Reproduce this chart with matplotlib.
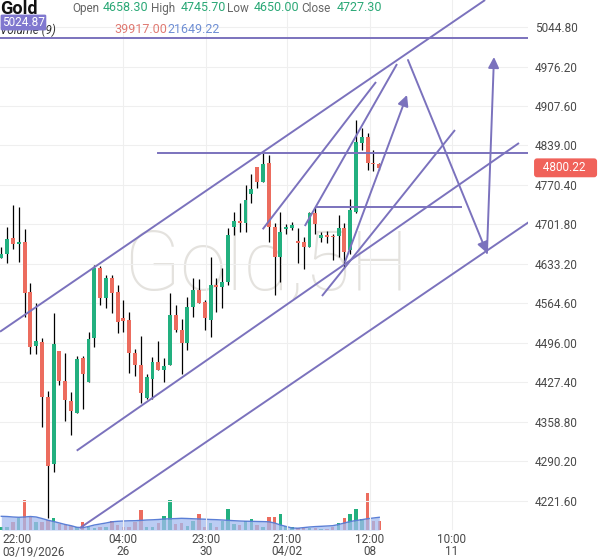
import numpy as np
import matplotlib.pyplot as plt
from matplotlib.transforms import blended_transform_factory

plt.rcParams['font.family'] = ['Roboto', 'DejaVu Sans']

# 5H candles
opens = [4643.6, 4650.6, 4678.4, 4667.9, 4671.4, 4584.6, 4490.8, 4497.7, 4402.2, 4285.9,
         4482.1, 4430.0, 4395.3, 4374.4, 4470.0, 4428.3, 4504.7, 4626.3, 4574.2, 4608.9,
         4584.6, 4539.4, 4536.0, 4478.6, 4457.8, 4400.5, 4433.5, 4463.0, 4449.1, 4457.8,
         4544.6, 4518.6, 4496.0, 4558.5, 4588.1, 4567.2, 4536.0, 4596.7, 4593.3, 4602.0,
         4697.5, 4707.9, 4704.4, 4754.8, 4801.7, 4775.6, 4808.6, 4697.5, 4645.4, 4694.0,
         4695.7, 4673.2, 4671.4, 4662.7, 4721.8, 4678.4, 4683.6, 4681.8, 4681.8, 4695.7,
         4658.3, 4723.5, 4843.4, 4853.8, 4808.6, 4806.9]
highs = [4662.7, 4697.5, 4735.7, 4732.2, 4694.0, 4600.2, 4565.5, 4504.7, 4412.7, 4548.1,
         4482.1, 4478.6, 4410.9, 4473.4, 4473.4, 4515.1, 4631.5, 4629.7, 4614.1, 4614.1,
         4596.7, 4570.7, 4549.9, 4485.6, 4508.2, 4442.2, 4471.7, 4499.5, 4470.0, 4582.8,
         4562.0, 4537.7, 4575.9, 4608.9, 4607.2, 4570.7, 4645.4, 4608.9, 4626.3, 4695.7,
         4723.5, 4739.1, 4770.4, 4789.5, 4801.7, 4826.0, 4822.5, 4704.4, 4723.5, 4702.7,
         4706.2, 4695.7, 4680.1, 4723.5, 4732.2, 4688.8, 4690.5, 4685.3, 4718.3, 4704.4,
         4745.7, 4883.3, 4869.4, 4860.7, 4831.2, 4808.6]
lows = [4643.6, 4634.9, 4659.3, 4636.7, 4541.2, 4476.9, 4476.9, 4350.1, 4192.1, 4272.0,
        4423.1, 4360.5, 4336.2, 4374.4, 4381.4, 4428.3, 4489.1, 4562.0, 4556.8, 4548.1,
        4513.4, 4515.1, 4443.9, 4438.7, 4391.8, 4398.8, 4398.8, 4449.1, 4428.3, 4457.8,
        4515.1, 4442.2, 4483.9, 4541.2, 4565.5, 4518.6, 4506.4, 4549.9, 4556.8, 4596.7,
        4683.6, 4688.8, 4688.8, 4739.1, 4765.2, 4775.6, 4671.4, 4579.4, 4602.0, 4685.3,
        4692.3, 4634.9, 4624.5, 4662.7, 4685.3, 4671.4, 4669.7, 4640.2, 4645.4, 4628.0,
        4650.0, 4721.8, 4831.2, 4796.5, 4794.7, 4796.5]
closes = [4650.6, 4676.6, 4667.9, 4671.4, 4582.8, 4489.1, 4499.5, 4402.2, 4282.4, 4494.3,
          4430.0, 4397.0, 4377.9, 4468.2, 4442.2, 4503.0, 4626.3, 4574.2, 4608.9, 4582.8,
          4532.5, 4534.2, 4478.6, 4457.8, 4409.2, 4437.0, 4463.0, 4449.1, 4456.1, 4544.6,
          4518.6, 4496.0, 4558.5, 4588.1, 4565.5, 4539.4, 4596.7, 4593.3, 4602.0, 4683.6,
          4707.9, 4704.4, 4744.4, 4763.5, 4775.6, 4806.9, 4697.5, 4645.4, 4688.8, 4697.5,
          4700.9, 4669.7, 4662.7, 4721.8, 4702.7, 4683.6, 4680.1, 4680.1, 4695.7, 4654.1,
          4727.3, 4845.1, 4853.8, 4808.6, 4806.9, 4800.22]
volumes = [7650, 7650, 20400, 30600, 76500, 33150, 20400, 20400, 25500, 30600,
           15300, 12750, 10200, 7650, 20400, 7650, 5100, 7650, 7650, 22950,
           12750, 7650, 7650, 20400, 51000, 7650, 7650, 17850, 35700, 76500,
           15300, 17850, 10200, 22950, 40800, 7650, 17850, 7650, 22950, 53550,
           15300, 12750, 22950, 28050, 12750, 7650, 33150, 33150, 40800, 10200,
           7650, 5100, 5100, 5100, 5100, 2550, 2550, 7650, 17850, 30600,
           39917, 53550, 28050, 94350, 22950, 22950]
volume_ma = [34900, 34400, 33150, 32400, 33150, 34400, 33150, 29300, 25000, 21700,
             17850, 14000, 11000, 6900, 5900, 8900, 12750, 15300, 17850, 20900,
             22200, 22950, 23500, 23700, 24500, 25500, 26000, 26800, 28050, 28600,
             29100, 29800, 29300, 28600, 28050, 27500, 26800, 26300, 25500, 24700,
             23700, 22950, 22400, 22200, 21700, 21400, 20900, 17850, 12750, 8900,
             5100, 4600, 6100, 7650, 8700, 9400, 10200, 11000, 14000, 17850,
             21649, 24200, 26300, 28800, 30600, 32400]

price_ticks = [4221.60, 4290.20, 4358.80, 4427.40, 4496.00, 4564.60, 4633.20,
               4701.80, 4770.40, 4839.00, 4907.60, 4976.20, 5044.80]
time_pos = [20.93, 35.2, 49.13, 63.4, 77.5]
time_labels = ['04:00\n26', '23:00\n30', '21:00\n04/02', '12:00\n08', '10:00\n11']
first_label = '22:00\n03/19/2026'

# drawings: (bar index, price) anchors
trend_lines = [
    ((-0.22, 4515.6), (83.2, 5091.7)),
    ((12.97, 4309.0), (89.03, 4843.3)),
    ((13.53, 4174.7), (90.75, 4706.2)),
    ((44.95, 4693.5), (64.44, 4949.3)),
    ((52.2, 4699.2), (68.05, 4980.5)),
    ((55.15, 4577.6), (78.02, 4865.9)),
]
h_lines = [(5024.87, -1, 92), (4826.0, 27.0, 92), (4732.2, 54.07, 79.05)]
arrows = [
    ((59.1, 4636.7), (69.77, 4926.7)),
    ((69.94, 4987.5), (83.52, 4652.3)),
    ((83.52, 4652.3), (84.73, 4992.7)),
]

up_col = '#22b07f'
down_col = '#ec6c5e'
draw_col = '#7b72bd'

W, H = 600, 558
fig = plt.figure(figsize=(6, 5.58), dpi=100)
rect = [0, 28 / H, 528 / W, 530 / H]
xlim = (-0.2236, 90.58)
ylim = (4171.2, 5091.7)

# volume pane underneath
axv = fig.add_axes(rect)
axv.set_xlim(xlim)
axv.set_ylim(0, 530 * 2550)
axv.axis('off')
x = np.arange(len(opens))
vol_cols = [up_col if c >= o else down_col for o, c in zip(opens, closes)]
axv.bar(x, volumes, width=0.6, color=vol_cols)
axv.fill_between(x, volume_ma, 0, color='#a4bbef', alpha=0.75, lw=0)
axv.plot(x, volume_ma, color='#5b7fd6', lw=1)

ax = fig.add_axes(rect, facecolor='none')
ax.set_xlim(xlim)
ax.set_ylim(ylim)
for s in ax.spines.values():
    s.set_visible(False)
ax.yaxis.tick_right()
ax.set_yticks(price_ticks)
ax.set_yticklabels(['%.2f' % p for p in price_ticks])
ax.tick_params(axis='y', length=0, pad=5, labelsize=8.5, labelcolor='#4a4a4a')
ax.set_xticks(time_pos)
ax.set_xticklabels(time_labels, linespacing=0.95)
ax.tick_params(axis='x', length=0, pad=2, labelsize=8.5, labelcolor='#4a4a4a')
ax.grid(True, color='#efefef', lw=0.8)
ax.set_axisbelow(True)
ax.text(0.004, -0.006, first_label, transform=ax.transAxes, ha='left', va='top',
        fontsize=8.5, color='#4a4a4a', linespacing=0.95)

# watermark
ax.text(0.503, 0.495, 'Gold,5H', transform=ax.transAxes, ha='center', va='center',
        fontsize=60, color='#e4e2de', fontweight='light', zorder=0)

# candles
for i in range(len(opens)):
    o, h, l, c = opens[i], highs[i], lows[i], closes[i]
    col = up_col if c >= o else down_col
    ax.vlines(i, l, h, color='black', lw=0.9, zorder=2)
    ax.bar(i, max(abs(c - o), 1.8), bottom=min(o, c), width=0.68, color=col, zorder=3)

# drawings
for (x0, y0), (x1, y1) in trend_lines:
    ax.plot([x0, x1], [y0, y1], color=draw_col, lw=1.4, zorder=4, solid_capstyle='butt')
for p, x0, x1 in h_lines:
    ax.plot([x0, x1], [p, p], color=draw_col, lw=1.4, zorder=4)
for (x0, y0), (x1, y1) in arrows:
    ax.annotate('', xy=(x1, y1), xytext=(x0, y0),
                arrowprops=dict(arrowstyle='-|>', color=draw_col, lw=1.4,
                                mutation_scale=16, shrinkA=0, shrinkB=0), zorder=4)

# last price tag
tr = blended_transform_factory(ax.transAxes, ax.transData)
ax.text(1.0 + 9 / 528, closes[-1], '  %.2f   ' % closes[-1], transform=tr, ha='left',
        va='center', fontsize=8.5, color='white',
        bbox=dict(boxstyle='round,pad=0.25', fc='#f0625a', ec='none'))

# header
def ft(px, py, s, **kw):
    fig.text(px / W, 1 - py / H, s, va='baseline', **kw)

ft(0, 14, 'Gold', fontsize=13, fontweight='bold', color='#111111')
ft(72, 12, 'Open', fontsize=8.5, color='#666666')
ft(103, 11, '4658.30', fontsize=9, color='#2aa876')
ft(151, 12, 'High', fontsize=8.5, color='#666666')
ft(181, 11, '4745.70', fontsize=9, color='#2aa876')
ft(227, 12, 'Low', fontsize=8.5, color='#666666')
ft(254, 11, '4650.00', fontsize=9, color='#2aa876')
ft(301, 12, 'Close', fontsize=8.5, color='#666666')
ft(337, 11, '4727.30', fontsize=9, color='#2aa876')
ft(0, 34, 'Volume (9)', fontsize=8.5, color='#333333', style='italic', zorder=1)
ft(114, 33, '39917.00', fontsize=9, color='#e07a72')
ft(167, 33, '21649.22', fontsize=9, color='#6f8fd4')
ft(2, 26, '5024.87', fontsize=8.5, color='white', zorder=5,
   bbox=dict(boxstyle='round,pad=0.12', fc='#8078cf', ec='none'))

fig.savefig('out.png', dpi=100)
